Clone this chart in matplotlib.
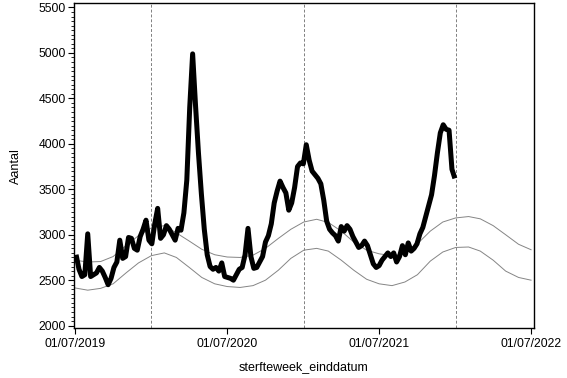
import matplotlib
matplotlib.use("Agg")
import matplotlib.pyplot as plt
import matplotlib.dates as mdates
from matplotlib.ticker import MultipleLocator
import pandas as pd

plt.rcParams['font.family'] = ['Liberation Sans', 'DejaVu Sans']

# Weekly deaths (week end dates, weekly from 2019-07-04)
week_start = "2019-07-04"
deaths = [
    2780, 2620, 2540, 2560, 3010, 2540, 2560, 2580, 2640, 2600,
    2530, 2450, 2520, 2640, 2700, 2940, 2740, 2760, 2970, 2960,
    2850, 2830, 2980, 3060, 3160, 2940, 2900, 3120, 3290, 2960,
    3000, 3100, 3060, 3000, 2940, 3070, 3050, 3240, 3600, 4400,
    4990, 4420, 3900, 3450, 3060, 2780, 2650, 2620, 2640, 2600,
    2690, 2540, 2530, 2520, 2500, 2560, 2620, 2640, 2780, 3070,
    2760, 2630, 2640, 2700, 2760, 2920, 2990, 3120, 3350, 3480,
    3590, 3520, 3460, 3270, 3350, 3520, 3750, 3790, 3780, 3990,
    3820, 3700, 3660, 3620, 3560, 3380, 3150, 3060, 3020, 2990,
    2930, 3090, 3040, 3100, 3060, 2980, 2920, 2860, 2880, 2930,
    2880, 2780, 2680, 2640, 2660, 2720, 2760, 2800, 2760, 2800,
    2700, 2760, 2880, 2780, 2910, 2820, 2850, 2900, 3010, 3080,
    3200, 3320, 3440, 3650, 3900, 4120, 4210, 4160, 4150, 3720,
    3620,
]

# Monthly upper / lower bound curves (first of month, 2019-07 .. 2022-07)
bound_start = "2019-07-01"
upper = [
    2720, 2700, 2705, 2760, 2880, 2990,
    3075, 3100, 3020, 2930, 2840, 2780, 2755, 2750, 2775, 2850, 2960, 3060,
    3140, 3170, 3135, 3040, 2920, 2830, 2790, 2770, 2790, 2900, 3040, 3140,
    3185, 3200, 3175, 3100, 3000, 2895, 2835,
]
lower = [
    2415, 2390, 2410, 2460, 2580, 2690,
    2770, 2800, 2750, 2640, 2530, 2460, 2430, 2420, 2440, 2500, 2610, 2740,
    2830, 2850, 2820, 2720, 2610, 2510, 2460, 2440, 2480, 2560, 2710, 2810,
    2860, 2865, 2820, 2720, 2600, 2530, 2500,
]

vlines = ["2020-01-01", "2021-01-01", "2022-01-01"]
xticks = ["2019-07-01", "2020-07-01", "2021-07-01", "2022-07-01"]
xtick_labels = ["01/07/2019", "01/07/2020", "01/07/2021", "01/07/2022"]

week_dates = pd.date_range(week_start, periods=len(deaths), freq="7D")
bound_dates = pd.date_range(bound_start, periods=len(upper), freq="MS")

fig = plt.figure(figsize=(5.67, 3.78), dpi=100)
ax = fig.add_axes([0.1305, 0.1323, 0.8105, 0.8587])

for d in vlines:
    ax.axvline(pd.Timestamp(d), color="#808080", lw=0.7, ls=(0, (3, 2)), zorder=1)

ax.plot(bound_dates, upper, color="#858585", lw=0.7, zorder=2)
ax.plot(bound_dates, lower, color="#858585", lw=0.7, zorder=2)
ax.plot(week_dates, deaths, color="black", lw=3.6, solid_joinstyle="round",
        solid_capstyle="butt", zorder=3)

ax.set_xlim(pd.Timestamp("2019-06-29"), pd.Timestamp("2022-07-07"))
ax.set_ylim(1974, 5545)

ax.set_yticks([2000, 2500, 3000, 3500, 4000, 4500, 5000, 5500])
ax.yaxis.set_minor_locator(MultipleLocator(50))
ax.set_xticks([pd.Timestamp(t) for t in xticks])
ax.set_xticklabels(xtick_labels)

ax.tick_params(axis="both", which="major", direction="out", length=4, width=0.8,
               labelsize=8.7, colors="black")
ax.tick_params(axis="y", which="minor", direction="out", length=2, width=0.6)
ax.tick_params(axis="x", which="minor", length=0)
ax.tick_params(axis="y", pad=2)
ax.tick_params(axis="x", pad=3)

for s in ax.spines.values():
    s.set_linewidth(1.0)
    s.set_color("black")

ax.set_ylabel("Aantal", fontsize=9, labelpad=12)
ax.set_xlabel("sterfteweek_einddatum", fontsize=9, labelpad=8)

fig.savefig("out.png", dpi=100)
